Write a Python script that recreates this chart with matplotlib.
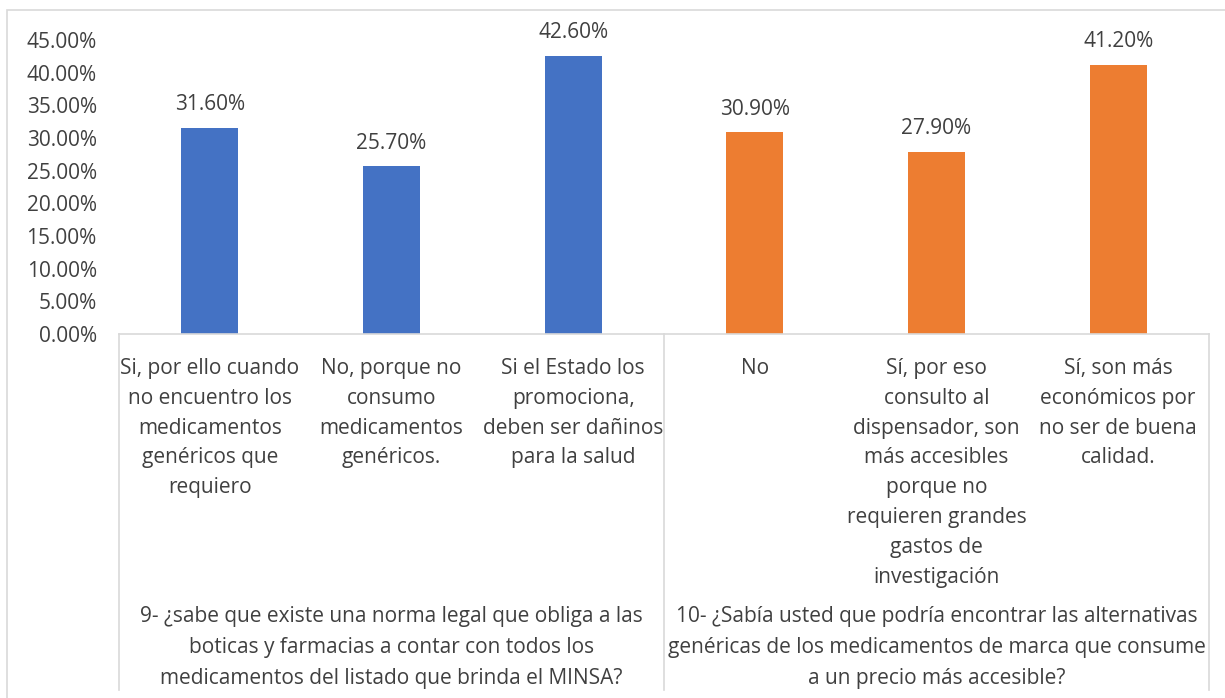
"""Bar chart of survey answers for questions 9 and 10 (Excel-style multi-level axis)."""

import matplotlib.pyplot as plt
from matplotlib.lines import Line2D
from matplotlib.patches import Rectangle

# answers (lower category level)
answers = [
    "Si, por ello cuando\nno encuentro los\nmedicamentos\ngenéricos que\nrequiero",
    "No, porque no\nconsumo\nmedicamentos\ngenéricos.",
    "Si el Estado los\npromociona,\ndeben ser dañinos\npara la salud",
    "No",
    "Sí, por eso\nconsulto al\ndispensador, son\nmás accesibles\nporque no\nrequieren grandes\ngastos de\ninvestigación",
    "Sí, son más\neconómicos por\nno ser de buena\ncalidad.",
]
# questions (upper category level)
questions = [
    "9- ¿sabe que existe una norma legal que obliga a las\nboticas y farmacias a contar con todos los\nmedicamentos del listado que brinda el MINSA?",
    "10- ¿Sabía usted que podría encontrar las alternativas\ngenéricas de los medicamentos de marca que consume\na un precio más accesible?",
]
answers_per_question = [3, 3]
percent = [31.6, 25.7, 42.6, 30.9, 27.9, 41.2]
y_ticks = [0, 5, 10, 15, 20, 25, 30, 35, 40, 45]

BLUE = "#4472C4"
ORANGE = "#ED7D31"
TEXT = "#404040"
GRID = "#D9D9D9"
FONT = "Open Sans"
FS = 15

W, H = 1225, 698
fig = plt.figure(figsize=(W / 100, H / 100), dpi=100)

x0, x1 = 119, 1209
y_axis, y_top = 334, 40
ax = fig.add_axes([x0 / W, 1 - y_axis / H, (x1 - x0) / W, (y_axis - y_top) / H])

n = len(percent)
colors = []
for qi, cnt in enumerate(answers_per_question):
    colors += [BLUE if qi == 0 else ORANGE] * cnt

xs = list(range(n))
ax.bar(xs, percent, width=0.315, color=colors, zorder=2)
ax.set_xlim(-0.5, n - 0.5)
ax.set_ylim(0, 45)

for x, v in zip(xs, percent):
    ax.annotate(f"{v:.2f}%", (x, v), xytext=(0, 9), textcoords="offset points",
                ha="center", va="bottom", fontsize=FS, color=TEXT, family=FONT)

ax.set_yticks(y_ticks)
ax.set_yticklabels([f"{t:.2f}%" for t in y_ticks], fontsize=FS, color=TEXT, family=FONT)
ax.tick_params(axis="y", length=0, pad=16)
ax.set_xticks([])
for side in ["top", "right", "left"]:
    ax.spines[side].set_visible(False)
ax.spines["bottom"].set_color(GRID)
ax.spines["bottom"].set_linewidth(1.2)


# multi-level category box below the axis
def fx(px):
    return px / W


def fy(py):
    return 1 - py / H


step = (x1 - x0) / n
for i, label in enumerate(answers):
    cx = x0 + step * (i + 0.5)
    fig.text(fx(cx), fy(358), label, ha="center", va="top", fontsize=FS,
             color=TEXT, family=FONT, linespacing=1.55)

start = 0
bounds = [x0]
for q, cnt in zip(questions, answers_per_question):
    cx = x0 + step * (start + cnt / 2)
    fig.text(fx(cx), fy(606), q, ha="center", va="top", fontsize=FS,
             color=TEXT, family=FONT, linespacing=1.64)
    start += cnt
    bounds.append(x0 + step * start)

for bx in bounds:
    fig.add_artist(Line2D([fx(bx), fx(bx)], [fy(y_axis), fy(690)],
                          color=GRID, lw=1.2, transform=fig.transFigure))

# chart outer border
fig.add_artist(Rectangle((fx(7), fy(740)), fx(1240) - fx(7), fy(10) - fy(740),
                         fill=False, edgecolor=GRID, lw=1.2, transform=fig.transFigure))

fig.savefig("out.png", dpi=100)
